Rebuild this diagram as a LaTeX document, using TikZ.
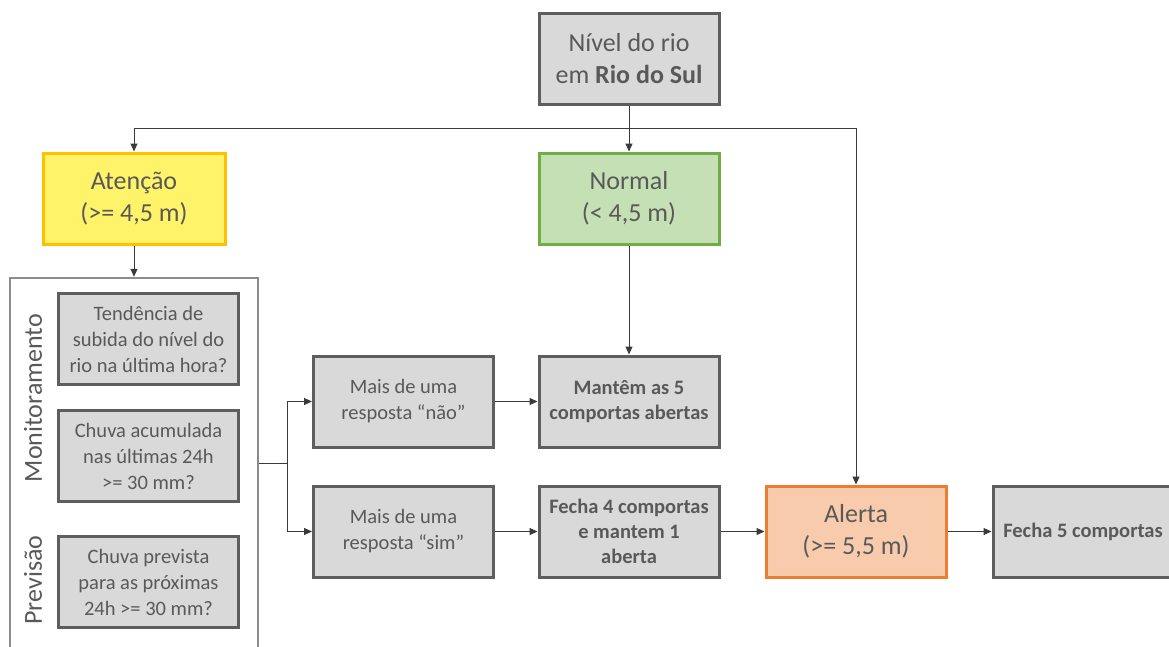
\documentclass[tikz,border=0pt]{standalone}
\usepackage{fontspec}
\setmainfont{Carlito}
\usetikzlibrary{arrows.meta}
\definecolor{txtgray}{HTML}{595959}
\definecolor{boxfill}{HTML}{D9D9D9}
\definecolor{boxline}{HTML}{5E5E5E}
\definecolor{yelfill}{HTML}{FFF36A}
\definecolor{yelline}{HTML}{FFC000}
\definecolor{grnfill}{HTML}{C5E0B4}
\definecolor{grnline}{HTML}{70AD47}
\definecolor{orgfill}{HTML}{F8CBAD}
\definecolor{orgline}{HTML}{ED7D31}
\definecolor{frameline}{HTML}{8C8C8C}
\definecolor{linkcol}{HTML}{3A3A3A}
\tikzset{
  base/.style={draw, line width=3pt, inner sep=0pt, align=center,
    text=txtgray, minimum width=180pt, minimum height=91pt},
  bigbox/.style={base, font=\fontsize{26}{32}\selectfont},
  smallbox/.style={base, fill=boxfill, draw=boxline,
    font=\fontsize{20.5}{26}\selectfont},
  boldbox/.style={smallbox, font=\fontsize{20.5}{25}\selectfont\bfseries},
  sidelabel/.style={rotate=90, text=txtgray, font=\fontsize{26}{30}\selectfont, inner sep=0pt},
  link/.style={draw=linkcol, line width=1pt},
  arrow/.style={link, -{Triangle[length=8pt,width=7pt]}}
}
\begin{document}
\begin{tikzpicture}[x=1pt,y=-1pt]
\useasboundingbox (0,0) rectangle (1169,646);
\clip (0,0) rectangle (1169,646);

% river level and the three states
\node[bigbox, fill=boxfill, draw=boxline] (top) at (629,58.5) {Nível do rio\\em \textbf{Rio do Sul}};
\node[bigbox, fill=yelfill, draw=yelline, minimum width=182pt] (aten) at (134,198.5) {Atenção\\(>= 4,5 m)};
\node[bigbox, fill=grnfill, draw=grnline] (norm) at (629,198.5) {Normal\\(< 4,5 m)};
\node[bigbox, fill=orgfill, draw=orgline] (alerta) at (856,531.5) {Alerta\\(>= 5,5 m)};

% monitoring / forecast group
\node[draw=frameline, line width=2.5pt, minimum width=248pt, minimum height=370pt, inner sep=0pt] (frame) at (134,463) {};
\node[smallbox] (q1) at (148.5,339) {Tendência de\\subida do nível do\\rio na última hora?};
\node[smallbox] (q2) at (148.5,456) {Chuva acumulada\\nas últimas 24h\\>= 30 mm?};
\node[smallbox] (q3) at (148.5,582) {Chuva prevista\\para as próximas\\24h >= 30 mm?};
\node[sidelabel] (mon) at (33,398) {Monitoramento};
\node[sidelabel] (prev) at (33,580) {Previsão};

% answers and actions
\node[smallbox] (nao) at (403.5,401.5) {Mais de uma\\resposta “não”};
\node[smallbox] (sim) at (403.5,531.5) {Mais de uma\\resposta “sim”};
\node[boldbox] (mant) at (629,401.5) {Mantêm as 5\\comportas abertas};
\node[boldbox] (f4) at (629,531.5) {Fecha 4 comportas\\e mantem 1\\aberta};
\node[boldbox] (f5) at (1083,531.5) {Fecha 5 comportas};

% connectors
\coordinate (hub) at (629,128);
\coordinate (split) at (287,463);
\draw[arrow] (top.south) -- (norm.north);
\draw[arrow] (hub) -| (aten.north);
\draw[arrow] (hub) -| (alerta.north);
\draw[arrow] (aten.south) -- (frame.north);
\draw[link] (frame.east) -- (split);
\draw[arrow] (split) |- (nao.west);
\draw[arrow] (split) |- (sim.west);
\draw[arrow] (norm.south) -- (mant.north);
\draw[arrow] (nao.east) -- (mant.west);
\draw[arrow] (sim.east) -- (f4.west);
\draw[arrow] (f4.east) -- (alerta.west);
\draw[arrow] (alerta.east) -- (f5.west);
\end{tikzpicture}
\end{document}
